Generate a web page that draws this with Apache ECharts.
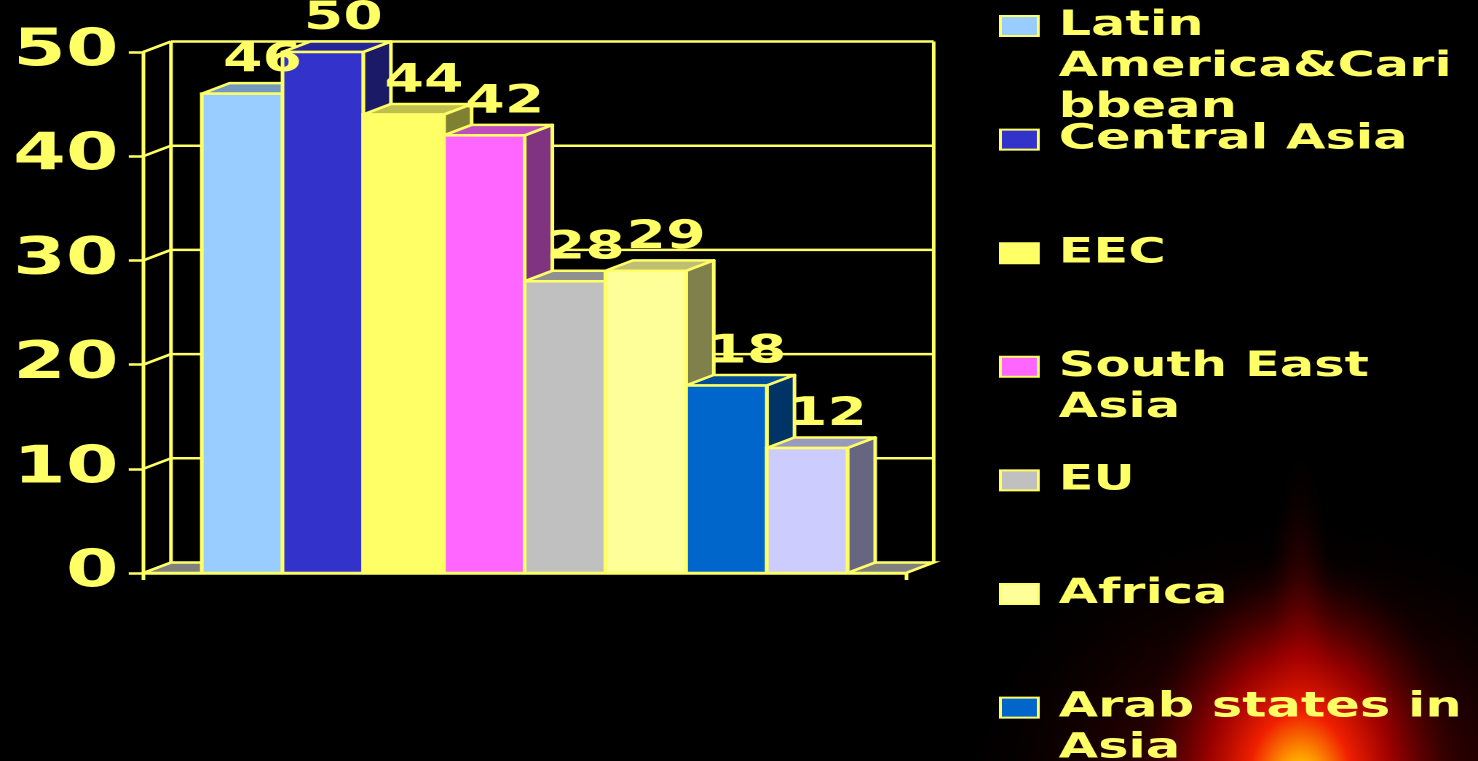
<!DOCTYPE html>
<html>
<head>
<meta charset="utf-8">
<script src="https://cdn.jsdelivr.net/npm/echarts/dist/echarts.min.js"></script>
<style>
  html, body { margin: 0; padding: 0; background: #000; overflow: hidden; }
  /* The original is a 4:3 slide stretched to 16:9: draw at 4:3 width, then stretch horizontally */
  #chart { width: 1015px; height: 761px; transform: scaleX(1.456158); transform-origin: 0 0; }
</style>
</head>
<body>
<div id="chart"></div>
<script>
// ---------------- data ----------------
const categories = [''];
const seriesNames = ['Latin America&Caribbean', 'Central Asia', 'EEC', 'South East Asia', 'EU', 'Africa', 'Arab states in Asia', 'Others'];
const legendLabels = ['Latin\nAmerica&Cari\nbbean', 'Central Asia', 'EEC', 'South East\nAsia', 'EU', 'Africa', 'Arab states in\nAsia', 'Others'];
const values = [46, 50, 44, 42, 28, 29, 18, 12];
const yTicks = [0, 10, 20, 30, 40, 50];

// ---------------- styles ----------------
const barColors = ['#99ccff', '#3333cc', '#ffff66', '#ff66ff', '#c0c0c0', '#ffff99', '#0066cc', '#ccccff'];
const YELLOW = '#ffff66';
const FONT = 'DejaVu Sans';
const DX = 19, DY = -10.5;          // 3D depth offset
const BAND_DIV = 9.45;              // band width / bar width
const LW = 2.5;

function shade(hex, k) {
  const n = parseInt(hex.slice(1), 16);
  const r = Math.round(((n >> 16) & 255) * k), g = Math.round(((n >> 8) & 255) * k), b = Math.round((n & 255) * k);
  return 'rgb(' + r + ',' + g + ',' + b + ')';
}
function padLabel(s) {
  const out = ['', ''].concat(s.split('\n'));
  while (out.length < 5) out.push('');
  return out.join('\n');
}

const chart = echarts.init(document.getElementById('chart'), null, { renderer: 'canvas', devicePixelRatio: 2 });

const lineStyle = { stroke: YELLOW, lineWidth: LW };

const frameSeries = {
  type: 'custom',
  name: '__frame',
  z: 1,
  silent: true,
  data: yTicks.map(v => [0, v]),
  renderItem: function (params, api) {
    const v = api.value(1);
    const p = api.coord([0, v]);
    const band = api.size([1, 0])[0];
    const xL = p[0] - band / 2, xR = p[0] + band / 2, y = p[1];
    const children = [];
    if (params.dataIndex === 0) {
      const top = api.coord([0, Math.max.apply(null, yTicks)])[1];
      children.push({
        type: 'polygon',
        shape: { points: [[xL, y], [xR, y], [xR + DX, y + DY], [xL + DX, y + DY]] },
        style: { fill: '#808080', stroke: YELLOW, lineWidth: LW }
      });
      children.push({ type: 'line', shape: { x1: xL + DX, y1: top + DY, x2: xL + DX, y2: y + DY }, style: lineStyle });
      children.push({ type: 'line', shape: { x1: xR + DX, y1: top + DY, x2: xR + DX, y2: y + DY }, style: lineStyle });
    } else {
      children.push({ type: 'line', shape: { x1: xL, y1: y, x2: xL + DX, y2: y + DY }, style: lineStyle });
      children.push({ type: 'line', shape: { x1: xL + DX, y1: y + DY, x2: xR + DX, y2: y + DY }, style: lineStyle });
    }
    return { type: 'group', children: children };
  }
};

function barSeries(i) {
  return {
    type: 'custom',
    name: seriesNames[i],
    z: 2,
    itemStyle: { color: barColors[i] },
    data: [[0, values[i]]],
    renderItem: function (params, api) {
      const v = api.value(1);
      const base = api.coord([0, 0]);
      const top = api.coord([0, v]);
      const band = api.size([1, 0])[0];
      const w = band / BAND_DIV;
      const x0 = base[0] - 4 * w + i * w, x1 = x0 + w;
      const yT = top[1], yB = base[1];
      const c = barColors[i];
      return {
        type: 'group',
        children: [
          { type: 'polygon', shape: { points: [[x1, yT], [x1 + DX, yT + DY], [x1 + DX, yB + DY], [x1, yB]] },
            style: { fill: shade(c, 0.5), stroke: YELLOW, lineWidth: LW, lineJoin: 'round' } },
          { type: 'polygon', shape: { points: [[x0, yT], [x1, yT], [x1 + DX, yT + DY], [x0 + DX, yT + DY]] },
            style: { fill: shade(c, 0.75), stroke: YELLOW, lineWidth: LW, lineJoin: 'round' } },
          { type: 'rect', shape: { x: x0, y: yT, width: w, height: yB - yT },
            style: { fill: c, stroke: YELLOW, lineWidth: LW } },
          { type: 'text', z2: 100,
            style: { text: String(v), x: (x0 + x1) / 2 + 14, y: yT - 33,
              fill: YELLOW, fontFamily: FONT, fontWeight: 'bold', fontSize: 39,
              align: 'center', verticalAlign: 'middle' } }
        ]
      };
    }
  };
}

const option = {
  backgroundColor: '#000000',
  animation: false,
  grid: { left: 98.4, right: 392.8, top: 52, bottom: 188, containLabel: false, outerBoundsMode: 'none' },
  xAxis: {
    type: 'category',
    data: categories,
    boundaryGap: true,
    axisLine: { show: true, lineStyle: { color: YELLOW, width: LW } },
    axisTick: { show: true, length: 7, lineStyle: { color: YELLOW, width: LW } },
    axisLabel: { show: false },
    splitLine: { show: false }
  },
  yAxis: {
    type: 'value',
    min: 0, max: 50, interval: 10,
    axisLine: { show: true, lineStyle: { color: YELLOW, width: LW } },
    axisTick: { show: true, length: 10, lineStyle: { color: YELLOW, width: LW } },
    axisLabel: { color: YELLOW, fontFamily: FONT, fontWeight: 'bold', fontSize: 52, margin: 17 },
    splitLine: { show: false }
  },
  legend: {
    orient: 'vertical',
    left: 686, top: -76.5, height: 3000,
    padding: 0,
    itemWidth: 26, itemHeight: 20, itemGap: -91.4,
    icon: 'rect',
    selectedMode: false,
    itemStyle: { borderColor: YELLOW, borderWidth: 2 },
    textStyle: { color: YELLOW, fontFamily: FONT, fontWeight: 'bold', fontSize: 35, lineHeight: 41, padding: [0, 0, 0, 9] },
    formatter: function (name) { return padLabel(legendLabels[seriesNames.indexOf(name)]); },
    data: seriesNames
  },
  graphic: [
    { type: 'circle', silent: true, z: 0, x: 893, y: 800, scaleY: 1.2, shape: { cx: 0, cy: 0, r: 250 },
      style: { fill: { type: 'radial', x: 0.5, y: 0.5, r: 0.5, colorStops: [
        { offset: 0, color: 'rgba(210,0,0,0.7)' }, { offset: 0.45, color: 'rgba(110,0,0,0.4)' }, { offset: 1, color: 'rgba(0,0,0,0)' }] } } },
    { type: 'circle', silent: true, z: 0, x: 893, y: 761, scaleY: 11, shape: { cx: 0, cy: 0, r: 30 },
      style: { fill: { type: 'radial', x: 0.5, y: 0.5, r: 0.5, colorStops: [
        { offset: 0, color: 'rgba(220,0,0,0.85)' }, { offset: 0.5, color: 'rgba(130,0,0,0.45)' }, { offset: 1, color: 'rgba(0,0,0,0)' }] } } },
    { type: 'circle', silent: true, z: 0, x: 893, y: 785, scaleY: 2.0, shape: { cx: 0, cy: 0, r: 120 },
      style: { fill: { type: 'radial', x: 0.5, y: 0.5, r: 0.5, colorStops: [
        { offset: 0, color: '#fff000' }, { offset: 0.12, color: '#ffa000' }, { offset: 0.3, color: '#f02000' },
        { offset: 0.55, color: 'rgba(170,0,0,0.8)' }, { offset: 0.8, color: 'rgba(80,0,0,0.4)' },
        { offset: 1, color: 'rgba(0,0,0,0)' }] } } }
  ],
  series: [frameSeries].concat(values.map((v, i) => barSeries(i)))
};

chart.setOption(option);
</script>
</body>
</html>
